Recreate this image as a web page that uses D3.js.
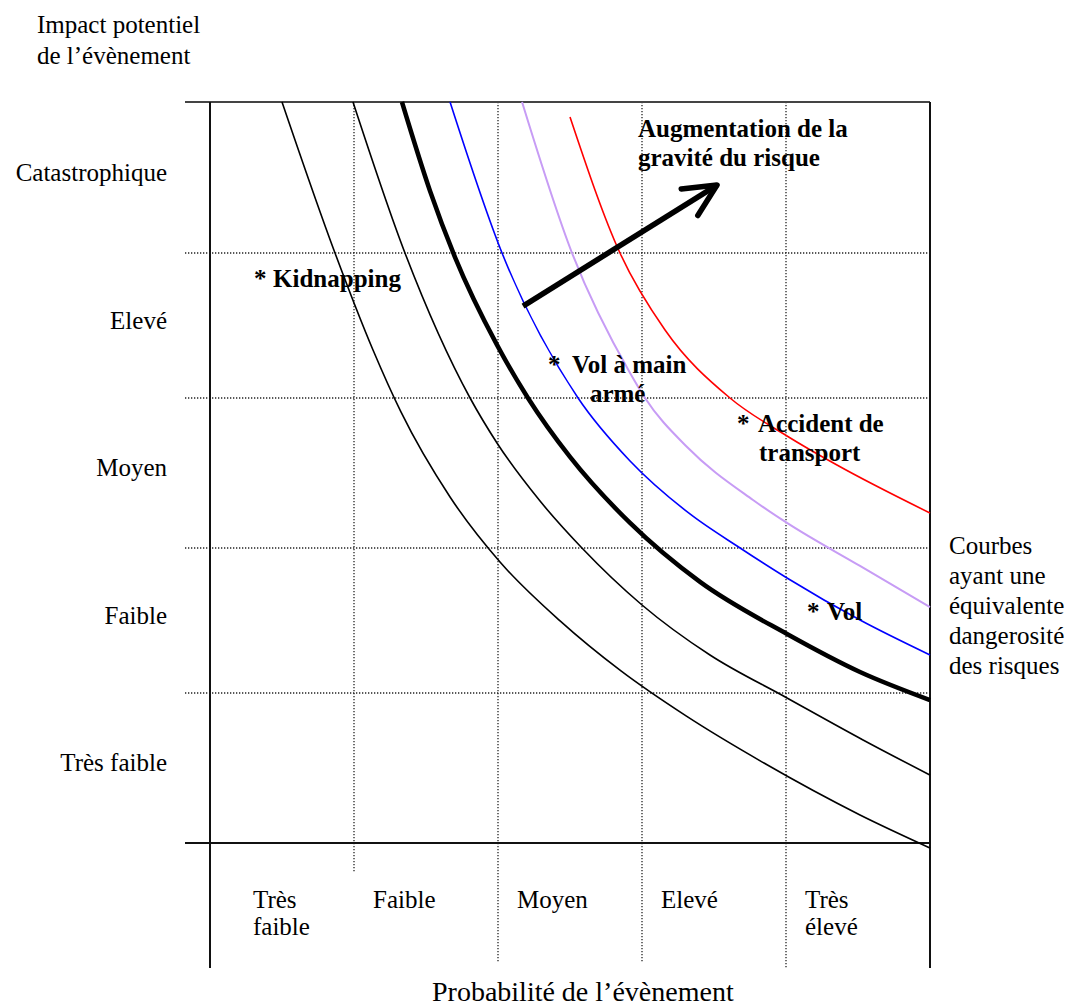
<!DOCTYPE html>
<html>
<head>
<meta charset="utf-8">
<script src="https://cdn.jsdelivr.net/npm/d3@7"></script>
<style>
  body { margin: 0; background: #fff; }
  svg { display: block; }
  text { font-family: "Liberation Serif", "Times New Roman", serif; fill: #000; }
</style>
</head>
<body>
<svg id="chart" width="1072" height="1006"></svg>
<script>
// Level names on both axes (index 0 = lowest level)
const probabilityLevels = [["Très", "faible"], ["Faible"], ["Moyen"], ["Elevé"], ["Très", "élevé"]];
const impactLevels = ["Très faible", "Faible", "Moyen", "Elevé", "Catastrophique"];

const impactTitle = ["Impact potentiel", "de l’évènement"];
const probabilityTitle = "Probabilité de l’évènement";
const curvesNote = ["Courbes", "ayant une", "équivalente", "dangerosité", "des risques"];
const arrowCaption = ["Augmentation de la", "gravité du risque"];

// Iso-risk curves: [probability, impact] on a 0–5 scale
const isoThin1 = [[0.500, 5.000], [0.868, 4.000], [1.132, 3.331], [1.326, 2.907], [1.667, 2.340],
                  [2.014, 1.903], [2.431, 1.497], [2.854, 1.152], [3.306, 0.847], [3.847, 0.533],
                  [4.514, 0.187], [5.000, -0.033]];
const isoThin2 = [[0.993, 5.000], [1.354, 4.000], [1.806, 3.000], [1.993, 2.700], [2.292, 2.313],
                  [2.583, 2.000], [3.000, 1.607], [3.472, 1.262], [4.007, 0.967], [4.535, 0.687],
                  [5.000, 0.453]];
const isoThick = [[1.333, 5.000], [1.528, 4.411], [1.701, 3.972], [1.993, 3.366], [2.208, 3.000],
                  [2.500, 2.607], [2.917, 2.167], [3.403, 1.766], [4.007, 1.407], [4.514, 1.145],
                  [5.000, 0.953]];
const isoBlue = [[1.667, 5.000], [2.028, 4.000], [2.556, 3.000], [2.917, 2.580], [3.333, 2.227],
                 [3.681, 2.000], [4.007, 1.793], [4.514, 1.503], [5.000, 1.262]];
const isoLavender = [[2.167, 5.000], [2.514, 4.000], [2.917, 3.172], [3.021, 3.000], [3.313, 2.673],
                     [3.771, 2.320], [4.007, 2.167], [4.514, 1.876], [5.000, 1.593]];
const isoRed = [[2.500, 4.901], [2.847, 4.000], [3.160, 3.469], [3.611, 3.000],
                [4.007, 2.747], [4.354, 2.553], [5.000, 2.233]];

// Risks placed on the grid: [probability, impact] of the asterisk, and label lines
const riskNames = ["Kidnapping", "Vol à main armé", "Accident de transport", "Vol"];
const riskPoints = [[0.306, 3.766], [2.347, 3.172], [3.66, 2.773], [4.146, 1.503]];
const riskLines = [["Kidnapping"], ["Vol à main", "armé"], ["Accident de", "transport"], ["Vol"]];

// Direction of increasing severity: [probability, impact] from → to
const gravityArrow = [[2.174, 3.634], [3.521, 4.45]];

const svg = d3.select("#chart");

const x = d3.scaleLinear().domain([0, 5]).range([210, 930]);
const y = d3.scaleLinear().domain([0, 1, 2, 3, 4, 5]).range([843, 693, 548, 398, 253, 102]);

// Dotted grid
const grid = svg.append("g")
  .attr("stroke", "#222").attr("stroke-width", 1.3).attr("stroke-dasharray", "1.3,1.7").attr("fill", "none");
[1, 2, 3, 4].forEach(v => {
  grid.append("line").attr("x1", 185).attr("x2", x(5)).attr("y1", y(v)).attr("y2", y(v));
});
const vEnds = [873, 963, 963, 968];
[1, 2, 3, 4].forEach((v, i) => {
  grid.append("line").attr("x1", x(v)).attr("x2", x(v)).attr("y1", y(5)).attr("y2", vEnds[i]);
});

// Frame
const frame = svg.append("g").attr("stroke", "#111").attr("stroke-width", 2).attr("fill", "none");
frame.append("line").attr("x1", 185).attr("x2", x(5)).attr("y1", y(5)).attr("y2", y(5)).attr("stroke", "#444");
frame.append("line").attr("x1", 185).attr("x2", x(5)).attr("y1", y(0)).attr("y2", y(0));
frame.append("line").attr("x1", x(0)).attr("x2", x(0)).attr("y1", y(5)).attr("y2", 968);
frame.append("line").attr("x1", x(5)).attr("x2", x(5)).attr("y1", y(5)).attr("y2", 968);

// Curves
const line = d3.line().x(d => x(d[0])).y(d => y(d[1])).curve(d3.curveMonotoneX);
const curveSet = [
  { pts: isoThin1, color: "#000", w: 1.6 },
  { pts: isoThin2, color: "#000", w: 1.6 },
  { pts: isoThick, color: "#000", w: 4.5 },
  { pts: isoBlue, color: "#0000ff", w: 1.6 },
  { pts: isoLavender, color: "#c79cf5", w: 2 },
  { pts: isoRed, color: "#ff0000", w: 1.6 }
];
svg.append("g").selectAll("path").data(curveSet).join("path")
  .attr("d", d => line(d.pts))
  .attr("fill", "none")
  .attr("stroke", d => d.color)
  .attr("stroke-width", d => d.w);

// Severity arrow
const ax0 = x(gravityArrow[0][0]), ay0 = y(gravityArrow[0][1]);
const ax1 = x(gravityArrow[1][0]), ay1 = y(gravityArrow[1][1]);
const ang = Math.atan2(ay1 - ay0, ax1 - ax0);
const barb = 36, spread = 0.45;
const b1 = [ax1 + barb * Math.cos(ang + Math.PI - spread), ay1 + barb * Math.sin(ang + Math.PI - spread)];
const b2 = [ax1 + barb * Math.cos(ang + Math.PI + spread), ay1 + barb * Math.sin(ang + Math.PI + spread)];
const arrow = svg.append("g").attr("stroke", "#000").attr("stroke-width", 5.5)
  .attr("fill", "none").attr("stroke-linecap", "round").attr("stroke-linejoin", "round");
arrow.append("line").attr("x1", ax0).attr("y1", ay0).attr("x2", ax1).attr("y2", ay1).attr("stroke-linecap", "butt");
arrow.append("path").attr("d", d3.line()([b1, [ax1, ay1], b2]));

// Impact level labels
svg.append("g").selectAll("text").data(impactLevels).join("text")
  .attr("x", 167)
  .attr("y", (d, i) => (y(i) + y(i + 1)) / 2 + 3)
  .attr("text-anchor", "end")
  .attr("font-size", 25)
  .text(d => d);

// Probability level labels
const probG = svg.append("g").attr("font-size", 25);
probabilityLevels.forEach((lines, i) => {
  const lx = x(i) + (i === 0 ? 43 : 19);
  const t = probG.append("text").attr("x", lx).attr("y", 908);
  lines.forEach((s, j) => {
    t.append("tspan").attr("x", lx).attr("dy", j === 0 ? 0 : 27).text(s);
  });
});

// Axis titles
const yt = svg.append("text").attr("font-size", 25);
impactTitle.forEach((s, j) => yt.append("tspan").attr("x", 37).attr("y", 33 + j * 31).text(s));
svg.append("text").attr("x", 432).attr("y", 1001).attr("font-size", 28).text(probabilityTitle);

// Side note
const note = svg.append("text").attr("font-size", 25);
curvesNote.forEach((s, j) => note.append("tspan").attr("x", 949).attr("y", 554 + j * 30).text(s));

// Arrow caption
const cap = svg.append("text").attr("font-size", 25).attr("font-weight", "bold");
arrowCaption.forEach((s, j) => cap.append("tspan").attr("x", 638).attr("y", 137 + j * 29).text(s));

// Risk labels
const lineDx = [[19], [24, 42], [21, 22], [20]];
riskPoints.forEach((p, i) => {
  const px = x(p[0]), py = y(p[1]);
  const g = svg.append("g").attr("font-size", 25).attr("font-weight", "bold");
  g.append("text").attr("x", px).attr("y", py).text("*");
  riskLines[i].forEach((s, j) => {
    g.append("text").attr("x", px + lineDx[i][j]).attr("y", py + j * 29).text(s);
  });
});
</script>
</body>
</html>
